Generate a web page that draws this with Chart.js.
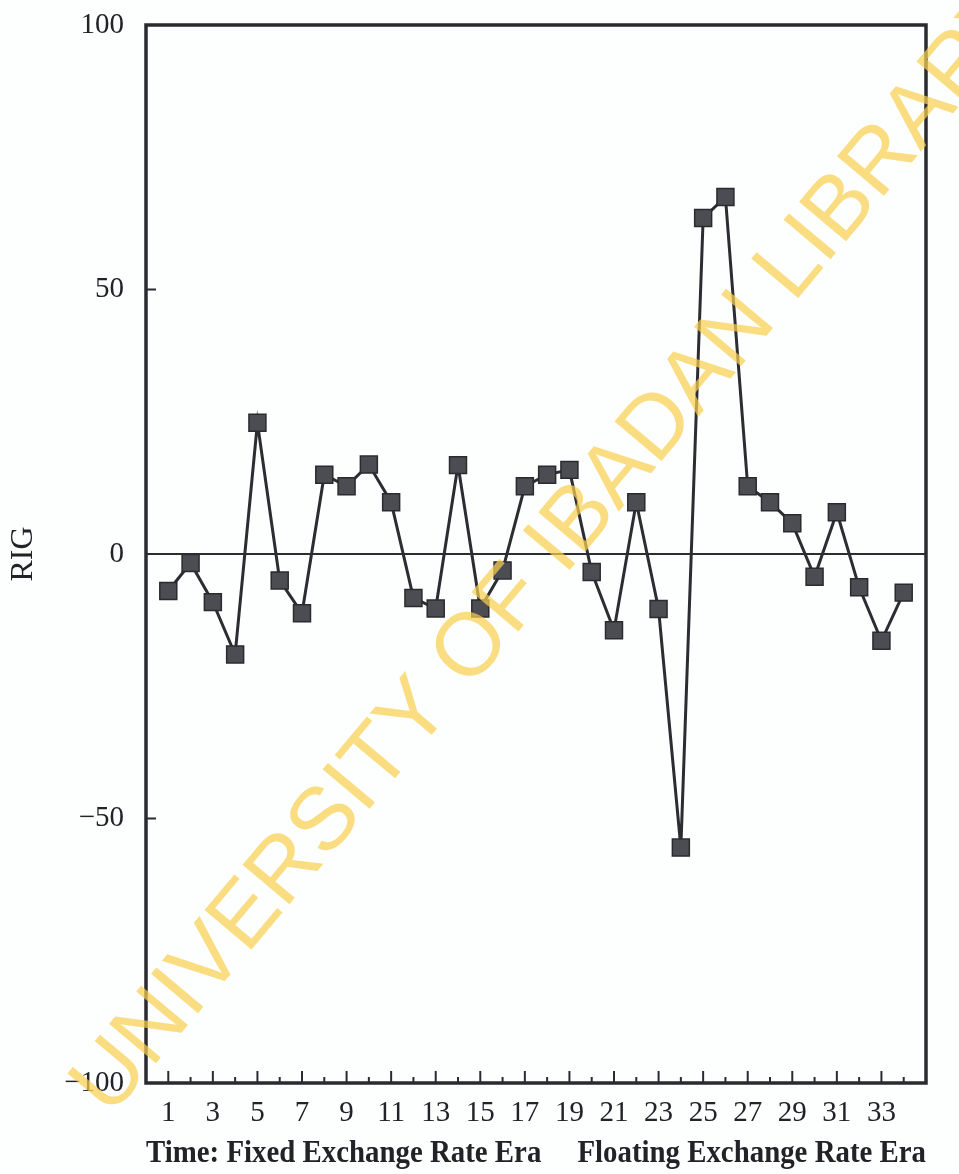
<!DOCTYPE html>
<html>
<head>
<meta charset="utf-8">
<script src="https://cdn.jsdelivr.net/npm/chart.js@4.4.0/dist/chart.umd.min.js"></script>
<style>
    html, body { margin: 0; padding: 0; background: #fdfefe; }
    #wrap { width: 959px; height: 1174px; }
</style>
</head>
<body>
<div id="wrap"><canvas id="rigChart"></canvas></div>
<script>
// values
var periods = [1, 2, 3, 4, 5, 6, 7, 8, 9, 10, 11, 12, 13, 14, 15, 16, 17,
               18, 19, 20, 21, 22, 23, 24, 25, 26, 27, 28, 29, 30, 31, 32, 33, 34];
var rigValues = [-7.0, -1.7, -9.1, -19.0, 24.8, -5.0, -11.2, 15.0, 12.8, 16.9, 9.8, -8.3,
                 -10.3, 16.8, -10.3, -3.1, 12.8, 15.0, 15.9, -3.4, -14.4, 9.8, -10.4, -55.5,
                 63.5, 67.5, 12.8, 9.8, 5.8, -4.3, 7.9, -6.3, -16.4, -7.3];
var yTicks = [-100, -50, 0, 50, 100];
var xLabelTicks = [1, 3, 5, 7, 9, 11, 13, 15, 17, 19, 21, 23, 25, 27, 29, 31, 33];
var xTitle = 'Time: Fixed Exchange Rate Era     Floating Exchange Rate Era';
var yTitle = 'RIG';
var watermark = 'UNIVERSITY OF IBADAN LIBRARY';

var serif = '"Liberation Serif", "DejaVu Serif", serif';
var ink = '#222227';

var points = [];
for (var i = 0; i < periods.length; i++) {
    points.push({ x: periods[i], y: rigValues[i] });
}

// frame + inward tick marks, and the library stamp on top
var paperPlugin = {
    id: 'paper',
    beforeDraw: function (chart) {
        var ctx = chart.ctx;
        ctx.save();
        ctx.fillStyle = '#fdfefe';
        ctx.fillRect(0, 0, chart.width, chart.height);
        ctx.restore();
    },
    beforeDatasetsDraw: function (chart) {
        var ctx = chart.ctx;
        var a = chart.chartArea;
        var xs = chart.scales.x;
        var ys = chart.scales.y;
        ctx.save();
        ctx.strokeStyle = '#2a2a30';
        ctx.lineWidth = 2;
        ctx.beginPath();
        for (var p = 1; p <= 34; p++) {
            var px = xs.getPixelForValue(p);
            var len = (p % 2 === 1) ? 12 : 6;
            ctx.moveTo(px, a.bottom);
            ctx.lineTo(px, a.bottom - len);
        }
        [-50, 50].forEach(function (v) {
            var py = ys.getPixelForValue(v);
            ctx.moveTo(a.left, py);
            ctx.lineTo(a.left + 10, py);
        });
        ctx.stroke();
        ctx.lineWidth = 3.5;
        ctx.strokeRect(a.left, a.top, a.right - a.left, a.bottom - a.top);
        ctx.restore();
    },
    afterDraw: function (chart) {
        var ctx = chart.ctx;
        ctx.save();
        ctx.translate(110, 1118);
        ctx.rotate(-50 * Math.PI / 180);
        ctx.font = '89px "Liberation Sans", Arial, sans-serif';
        ctx.fillStyle = 'rgba(248, 208, 80, 0.72)';
        ctx.fillText(watermark, 0, 0);
        ctx.restore();
    }
};

new Chart('rigChart', {
    type: 'line',
    data: {
        datasets: [{
            data: points,
            borderColor: '#2c2c32',
            borderWidth: 3,
            tension: 0,
            pointStyle: 'rect',
            pointRadius: 12,
            pointBackgroundColor: '#4c4c53',
            pointBorderColor: '#2a2a2f',
            pointBorderWidth: 1.5
        }]
    },
    options: {
        responsive: true,
        maintainAspectRatio: false,
        animation: false,
        layout: { padding: { top: 25, right: 33, bottom: 0, left: 0 } },
        plugins: {
            legend: { display: false },
            tooltip: { enabled: false }
        },
        scales: {
            x: {
                type: 'linear',
                min: 0,
                max: 35,
                afterBuildTicks: function (scale) {
                    scale.ticks = xLabelTicks.map(function (v) { return { value: v }; });
                },
                afterFit: function (scale) { scale.height = 91; },
                ticks: {
                    autoSkip: false,
                    maxRotation: 0,
                    padding: 13,
                    color: ink,
                    font: { family: serif, size: 29 }
                },
                grid: { display: false, drawTicks: false },
                border: { display: false },
                title: {
                    display: true,
                    text: xTitle,
                    color: ink,
                    padding: { top: 0, bottom: 1 },
                    font: { family: serif, size: 31, weight: 'bold' }
                }
            },
            y: {
                type: 'linear',
                min: -100,
                max: 100,
                afterBuildTicks: function (scale) {
                    scale.ticks = yTicks.map(function (v) { return { value: v }; });
                },
                afterFit: function (scale) { scale.width = 146; },
                ticks: {
                    padding: 0,
                    color: ink,
                    font: { family: serif, size: 29 },
                    callback: function (v) { return v < 0 ? '\u2212' + Math.abs(v) : String(v); }
                },
                grid: {
                    drawTicks: true,
                    tickLength: 22,
                    tickColor: 'rgba(0,0,0,0)',
                    lineWidth: 2,
                    color: function (c) {
                        return (c.tick && c.tick.value === 0) ? '#2c2c32' : 'rgba(0,0,0,0)';
                    }
                },
                border: { display: false },
                title: {
                    display: true,
                    text: yTitle,
                    color: ink,
                    padding: { top: 4, bottom: 0 },
                    font: { family: serif, size: 32 }
                }
            }
        }
    },
    plugins: [paperPlugin]
});
</script>
</body>
</html>
